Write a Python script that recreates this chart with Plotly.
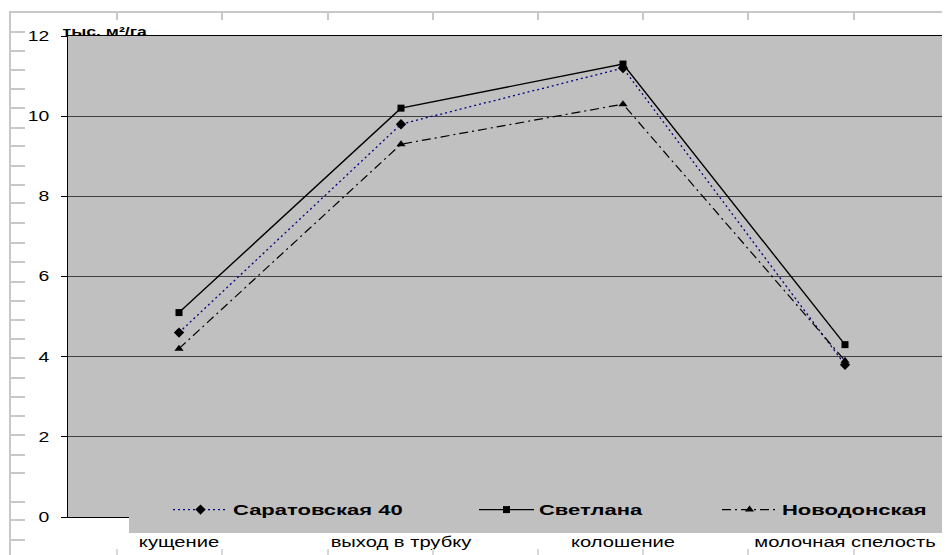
import plotly.graph_objects as go

# ---- data ----
categories = ["кущение", "выход в трубку", "колошение", "молочная спелость"]
saratovskaya_40 = [4.6, 9.8, 11.2, 3.8]
svetlana = [5.1, 10.2, 11.3, 4.3]
novodonskaya = [4.2, 9.3, 10.3, 3.9]
series_names = ["Саратовская 40", "Светлана", "Новодонская"]
y_ticks = [0, 2, 4, 6, 8, 10, 12]
unit_label = "тыс. м²/га"

# ---- layout geometry (screen pixels of the 950x555 window) ----
OFF = 8                      # default body margin of the page
W, H = 950 - OFF, 555 - OFF  # figure size so that it fits the window
PLOT_L, PLOT_T, PLOT_B = 68, 36, 517   # plot area on screen
L, T = PLOT_L - OFF, PLOT_T - OFF
B = H - (PLOT_B - OFF)
R = 0
PW = W - L - R
PH = H - T - B


def px(x):
    """screen x -> paper x"""
    return (x - OFF - L) / PW


def py(y):
    """screen y -> paper y"""
    return (H - B - (y - OFF)) / PH


FONT = "Arial, 'Liberation Sans', sans-serif"
RULER = "#C8C8C8"

fig = go.Figure()

fig.add_trace(go.Scatter(
    x=categories, y=saratovskaya_40, name=series_names[0], mode="lines+markers",
    line=dict(color="#000080", width=1.3, dash="2px,3px"),
    marker=dict(symbol="diamond", size=8, color="black"),
    legend="legend",
))
fig.add_trace(go.Scatter(
    x=categories, y=svetlana, name=series_names[1], mode="lines+markers",
    line=dict(color="black", width=1.4),
    marker=dict(symbol="square", size=7, color="black"),
    legend="legend2",
))
fig.add_trace(go.Scatter(
    x=categories, y=novodonskaya, name=series_names[2], mode="lines+markers",
    line=dict(color="black", width=1.2, dash="9px,4px,2px,4px"),
    marker=dict(symbol="triangle-up", size=8, color="black"),
    legend="legend3",
))

legend_common = dict(
    orientation="h", yanchor="middle", y=py(510), xanchor="left",
    bgcolor="rgba(0,0,0,0)", borderwidth=0, itemwidth=55,
    font=dict(family=FONT, size=14, color="black", weight="bold"),
)

shapes = []
# legend background box (covers the axis line like in the reference)
shapes.append(dict(type="rect", xref="paper", yref="paper",
                   x0=px(129), x1=px(955), y0=py(533), y1=py(488),
                   fillcolor="#C0C0C0", line=dict(width=0), layer="above"))
# document ruler decorations
shapes.append(dict(type="line", xref="paper", yref="paper",
                   x0=px(9), x1=px(950), y0=py(12), y1=py(12),
                   line=dict(color=RULER, width=2), layer="above"))
shapes.append(dict(type="line", xref="paper", yref="paper",
                   x0=px(10), x1=px(10), y0=py(12), y1=py(556),
                   line=dict(color=RULER, width=2), layer="above"))
for xx in [117, 222, 328, 433, 538, 643, 748, 854]:
    shapes.append(dict(type="line", xref="paper", yref="paper",
                       x0=px(xx), x1=px(xx), y0=py(12), y1=py(20),
                       line=dict(color=RULER, width=2), layer="above"))
    shapes.append(dict(type="line", xref="paper", yref="paper",
                       x0=px(xx), x1=px(xx), y0=py(549), y1=py(555),
                       line=dict(color="#D8D8D8", width=2), layer="above"))
for yy in [32, 51, 70, 89, 108, 128, 146, 166, 185, 203, 223, 243, 262, 282,
           301, 320, 339, 358, 378, 397, 416, 435, 455, 473, 502, 520, 540]:
    shapes.append(dict(type="line", xref="paper", yref="paper",
                       x0=px(10), x1=px(25), y0=py(yy), y1=py(yy),
                       line=dict(color=RULER, width=2), layer="above"))

fig.update_layout(
    width=W, height=H,
    margin=dict(l=L, r=R, t=T, b=B, pad=0, autoexpand=False),
    paper_bgcolor="white", plot_bgcolor="#C0C0C0",
    font=dict(family=FONT, size=13, color="black"),
    showlegend=True,
    legend=dict(legend_common, x=px(168), entrywidth=175),
    legend2=dict(legend_common, x=px(474), entrywidth=110),
    legend3=dict(legend_common, x=px(717), entrywidth=145),
    xaxis=dict(
        type="category", range=[-0.5, -0.5 + PW / 222.0],
        showgrid=False, zeroline=False,
        showline=True, mirror=True, linecolor="black", linewidth=1,
        ticks="", ticklabelstandoff=12,
        tickfont=dict(family=FONT, size=14, color="black"),
    ),
    yaxis=dict(
        range=[0, 12], tickvals=y_ticks, ticktext=[str(v) for v in y_ticks],
        showgrid=True, gridcolor="#404040", gridwidth=1, zeroline=False,
        showline=True, linecolor="black", linewidth=1,
        ticks="outside", ticklen=6, tickcolor="black", tickwidth=1,
        ticklabelstandoff=9,
        tickfont=dict(family=FONT, size=14, color="black"),
    ),
    shapes=shapes,
    annotations=[dict(
        text=unit_label, xref="paper", yref="paper",
        x=px(104.5), y=py(32), xanchor="center", yanchor="middle",
        showarrow=False, font=dict(family=FONT, size=12, color="black", weight="bold"),
    )],
)

# The reference text is rendered horizontally wide; stretch the real SVG text.
POST = """
var gd = document.getElementById('{plot_id}');
function stretchText(){
  var specs = [['.xtick text',1.44],['.ytick text',1.38],
               ['.legendtext, .legend2text, .legend3text',1.57],
               ['.annotation-text',1.47]];
  specs.forEach(function(s){
    gd.querySelectorAll(s[0]).forEach(function(t){
      var w = parseFloat(t.getAttribute('data-w') || '0');
      if(!(w > 1) || t.getAttribute('data-t') !== t.textContent){
        t.removeAttribute('textLength');
        w = t.getComputedTextLength();
        if(!(w > 1)){ return; }
        t.setAttribute('data-w', w);
        t.setAttribute('data-t', t.textContent);
      }
      var target = (w*s[1]).toFixed(1);
      if(t.getAttribute('textLength') !== target){
        t.setAttribute('textLength', target);
        t.setAttribute('lengthAdjust', 'spacingAndGlyphs');
      }
    });
  });
}
stretchText();
gd.on('plotly_afterplot', stretchText);
new MutationObserver(function(){ stretchText(); }).observe(gd, {childList: true, subtree: true});
setTimeout(stretchText, 50);
setTimeout(stretchText, 300);
"""

fig.write_html("out.html", post_script=POST)
